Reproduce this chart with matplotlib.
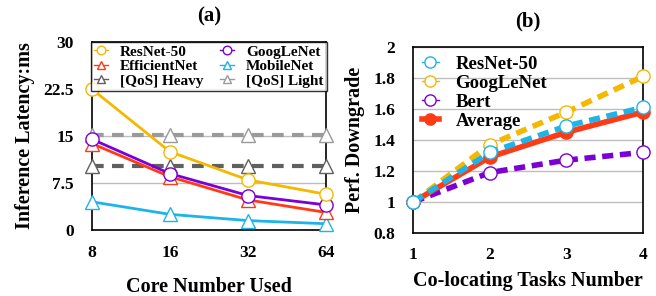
import matplotlib
matplotlib.use("Agg")
import matplotlib.pyplot as plt
import numpy as np

plt.rcParams['font.family'] = ['Liberation Serif', 'DejaVu Serif']
plt.rcParams['font.weight'] = 'bold'

# (a) inference latency vs cores
cores = ['8', '16', '32', '64']
resnet_a = [22.5, 12.5, 8.0, 5.7]
googlenet_a = [14.5, 9.0, 5.5, 4.0]
efficientnet_a = [13.8, 8.5, 4.8, 2.8]
mobilenet_a = [4.5, 2.5, 1.5, 1.0]
qos_heavy = [10.2, 10.2, 10.2, 10.2]
qos_light = [15.2, 15.2, 15.2, 15.2]

# (b) perf downgrade vs co-located tasks
tasks = [1, 2, 3, 4]
resnet_b = [1.0, 1.32, 1.49, 1.61]
googlenet_b = [1.0, 1.37, 1.58, 1.81]
bert_b = [1.0, 1.19, 1.27, 1.32]
average_b = [1.0, 1.29, 1.45, 1.58]

c_orange = '#F5B800'
c_purple = '#7A00D6'
c_red = '#FF3A14'
c_cyan = '#1EB4E8'
c_dark = '#606060'
c_light = '#9A9A9A'

fig = plt.figure(figsize=(6.56, 2.96), dpi=100)

# ---- panel (a)
ax1 = fig.add_axes([0.140, 0.223, 0.357, 0.635])
x = np.arange(len(cores))
ms = 9.5
ax1.plot(x, qos_light, color=c_light, lw=3, dashes=(2.8, 2.0), marker='^', ms=ms, mfc='white', mec=c_light, mew=1,
         label='[QoS] Light', clip_on=False, zorder=3)
ax1.plot(x, qos_heavy, color=c_dark, lw=3, dashes=(2.8, 2.0), marker='^', ms=ms, mfc='white', mec=c_dark, mew=1,
         label='[QoS] Heavy', clip_on=False, zorder=3)
ax1.plot(x, mobilenet_a, '-', color=c_cyan, lw=2, marker='^', ms=ms, mfc='white', mec=c_cyan, mew=1,
         label='MobileNet', clip_on=False, zorder=4)
ax1.plot(x, efficientnet_a, '-', color=c_red, lw=2, marker='^', ms=ms, mfc='white', mec=c_red, mew=1,
         label='EfficientNet', clip_on=False, zorder=4)
ax1.plot(x, googlenet_a, '-', color=c_purple, lw=2, marker='o', ms=ms, mfc='white', mec=c_purple, mew=1,
         label='GoogLeNet', clip_on=False, zorder=5)
ax1.plot(x, resnet_a, '-', color=c_orange, lw=2, marker='o', ms=ms, mfc='white', mec=c_orange, mew=1,
         label='ResNet-50', clip_on=False, zorder=5)
ax1.set_xlim(0, 3)
ax1.set_ylim(0, 30)
ax1.set_xticks(x)
ax1.set_xticklabels(cores)
ax1.set_yticks([0, 7.5, 15, 22.5, 30])
ax1.set_yticklabels(['0', '7.5', '15', '22.5', '30'])
ax1.yaxis.grid(True, color='#BDBDBD', lw=1)
ax1.set_axisbelow(True)
ax1.tick_params(axis='y', length=0, labelsize=12.5, pad=13)
ax1.tick_params(axis='x', length=0, labelsize=12.5, pad=11)
ax1.set_xlabel('Core Number Used', fontsize=14.5, fontweight='bold', labelpad=11)
ax1.set_ylabel('Inference Latency:ms', fontsize=14.5, fontweight='bold', labelpad=6)
ax1.set_title('(a)', fontsize=15, fontweight='bold', pad=15)
h, l = ax1.get_legend_handles_labels()
order = ['ResNet-50', 'EfficientNet', '[QoS] Heavy', 'GoogLeNet', 'MobileNet', '[QoS] Light']
hh = [h[l.index(o)] for o in order]
leg = ax1.legend(hh, order, ncol=2, loc='upper center', bbox_to_anchor=(0.5, 1.0), fontsize=11,
                 frameon=True, fancybox=False, edgecolor='black', borderaxespad=0.0,
                 handlelength=0.9, markerscale=0.65, labelspacing=0.05, columnspacing=1.1,
                 handletextpad=0.8, borderpad=0.2)
leg.get_frame().set_linewidth(1.0)
for line in leg.get_lines():
    line.set_linewidth(1)
    line.set_linestyle('-')
for s in ax1.spines.values():
    s.set_linewidth(1.2)

# ---- panel (b)
ax2 = fig.add_axes([0.630, 0.213, 0.350, 0.628])
ms2 = 9.5
ax2.plot(tasks, bert_b, color=c_purple, lw=4, dashes=(2.0, 1.2), marker='o', ms=ms2, mfc='white',
         mec=c_purple, mew=1, label='Bert', clip_on=False, zorder=3)
ax2.plot(tasks, googlenet_b, color=c_orange, lw=4, dashes=(2.0, 1.2), marker='o', ms=ms2, mfc='white',
         mec=c_orange, mew=1, label='GoogLeNet', clip_on=False, zorder=3)
ax2.plot(tasks, average_b, '-', color=c_red, lw=4, marker='o', ms=ms2, mfc=c_red,
         mec=c_red, mew=1, label='Average', clip_on=False, zorder=4)
ax2.plot(tasks, resnet_b, color=c_cyan, lw=4, dashes=(2.0, 1.2), marker='o', ms=ms2, mfc='white',
         mec=c_cyan, mew=1, label='ResNet-50', clip_on=False, zorder=5)
ax2.set_xlim(1, 4)
ax2.set_ylim(0.8, 2.0)
ax2.set_xticks(tasks)
ax2.set_yticks([0.8, 1.0, 1.2, 1.4, 1.6, 1.8, 2.0])
ax2.set_yticklabels(['0.8', '1', '1.2', '1.4', '1.6', '1.8', '2'])
ax2.yaxis.grid(True, color='#BDBDBD', lw=1)
ax2.set_axisbelow(True)
ax2.tick_params(axis='y', length=0, labelsize=12.5, pad=13)
ax2.tick_params(axis='x', length=0, labelsize=12.5, pad=10)
ax2.set_xlabel('Co-locating Tasks Number', fontsize=14.5, fontweight='bold', labelpad=6)
ax2.set_ylabel('Perf. Downgrade', fontsize=14.5, fontweight='bold', labelpad=6)
ax2.set_title('(b)', fontsize=15, fontweight='bold', pad=15)
h2, l2 = ax2.get_legend_handles_labels()
order2 = ['ResNet-50', 'GoogLeNet', 'Bert', 'Average']
hh2 = [h2[l2.index(o)] for o in order2]
leg2 = ax2.legend(hh2, order2, loc='upper left', fontsize=13.5, frameon=False,
                  handlelength=0.9, markerscale=0.85, labelspacing=0.1, handletextpad=0.9,
                  borderaxespad=0.15, borderpad=0.3)
for line in leg2.get_lines():
    line.set_linewidth(1)
    line.set_linestyle('-')
leg2.get_lines()[3].set_linewidth(4)
for s in ax2.spines.values():
    s.set_linewidth(1.2)

fig.savefig('out.png', dpi=100)
